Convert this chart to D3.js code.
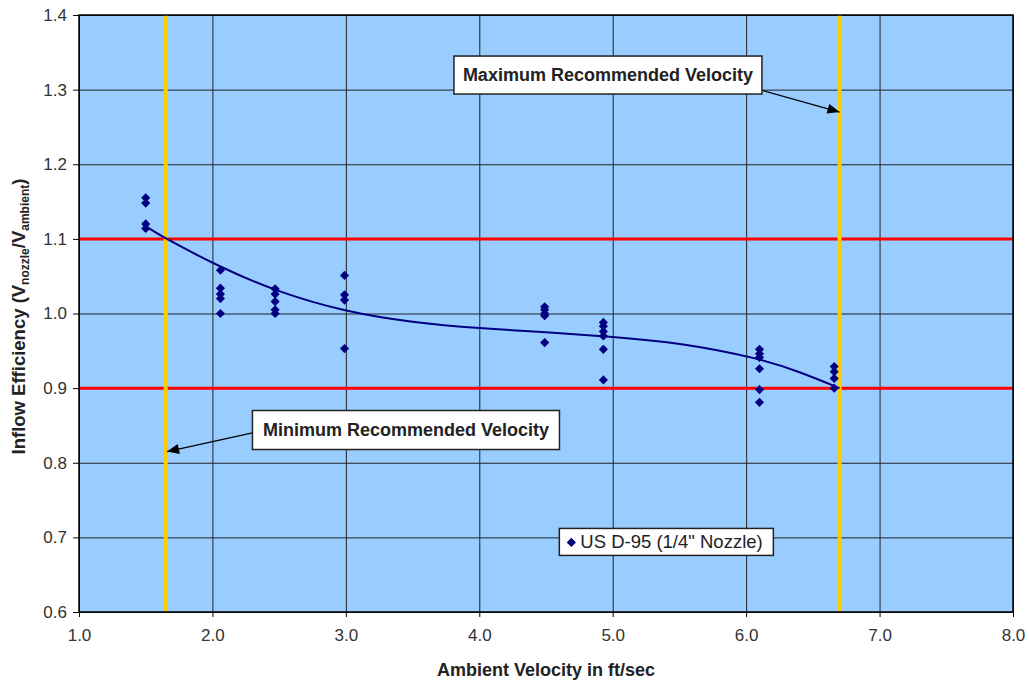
<!DOCTYPE html>
<html>
<head>
<meta charset="utf-8">
<script src="https://cdn.jsdelivr.net/npm/d3@7"></script>
<style>
  body { margin: 0; background: #fff; }
  svg { font-family: "Liberation Sans", Arial, sans-serif; }
  .axis text { font-size: 17px; fill: #333; }
  .axis path, .axis line { stroke: #000; }
  .grid line { stroke: #222; stroke-width: 1; }
  .grid path { display: none; }
</style>
</head>
<body>
<div class="chart"></div>
<script>
// Measured points: x = ambient velocity (ft/sec), y = inflow efficiency
const pointX = [
  1.5, 1.5, 1.5, 1.5,
  2.06, 2.06, 2.06, 2.06, 2.06,
  2.47, 2.47, 2.47, 2.47, 2.47,
  2.99, 2.99, 2.99, 2.99,
  4.49, 4.49, 4.49, 4.49, 4.49,
  4.93, 4.93, 4.93, 4.93, 4.93, 4.93,
  6.1, 6.1, 6.1, 6.1, 6.1, 6.1,
  6.66, 6.66, 6.66, 6.66
];
const pointY = [
  1.155, 1.148, 1.12, 1.114,
  1.058, 1.034, 1.026, 1.02, 1.0,
  1.033, 1.026, 1.016, 1.005, 1.0,
  1.051, 1.025, 1.018, 0.953,
  1.009, 1.005, 1.0, 0.997, 0.961,
  0.988, 0.983, 0.976, 0.97, 0.952, 0.911,
  0.952, 0.946, 0.941, 0.926, 0.898, 0.881,
  0.929, 0.922, 0.913, 0.9
];
// Trend line
const trendX = [1.5, 1.65, 2.06, 2.47, 3.0, 3.5, 4.0, 4.5, 5.0, 5.5, 6.1, 6.4, 6.7];
const trendY = [1.117, 1.1, 1.062, 1.03, 1.002, 0.988, 0.98, 0.975, 0.969, 0.961, 0.94, 0.922, 0.9];

const xTicks = [1, 2, 3, 4, 5, 6, 7, 8];
const yTicks = [0.6, 0.7, 0.8, 0.9, 1.0, 1.1, 1.2, 1.3, 1.4];
const limitVelocities = [1.65, 6.7];   // yellow lines
const limitEfficiencies = [0.9, 1.1];  // red lines
const legendLabel = "US D-95 (1/4\" Nozzle)";

const margin = { top: 15, right: 16, bottom: 73, left: 79 };
const width = 1029 - margin.left - margin.right;
const height = 685 - margin.top - margin.bottom;

const svg = d3.select(".chart").append("svg")
  .attr("width", 1029)
  .attr("height", 685);
const g = svg.append("g")
  .attr("transform", "translate(" + margin.left + "," + margin.top + ")");

const x = d3.scaleLinear().domain([1, 8]).range([0, width]);
const y = d3.scaleLinear().domain([0.6, 1.4]).range([height, 0]);

// plot background
g.append("rect")
  .attr("width", width)
  .attr("height", height)
  .attr("fill", "#99ccff");

// grid
g.append("g")
  .attr("class", "grid")
  .attr("transform", "translate(0," + height + ")")
  .call(d3.axisBottom(x).tickValues(xTicks).tickSize(-height).tickFormat(""));
g.append("g")
  .attr("class", "grid")
  .call(d3.axisLeft(y).tickValues(yTicks).tickSize(-width).tickFormat(""));

// limit lines
g.selectAll(".hlimit")
  .data(limitEfficiencies)
  .enter().append("line")
  .attr("x1", 0).attr("x2", width)
  .attr("y1", d => y(d)).attr("y2", d => y(d))
  .attr("stroke", "#ff0000")
  .attr("stroke-width", 3);
g.selectAll(".vlimit")
  .data(limitVelocities)
  .enter().append("line")
  .attr("x1", d => x(d)).attr("x2", d => x(d))
  .attr("y1", 0).attr("y2", height)
  .attr("stroke", "#ffcc00")
  .attr("stroke-width", 4);

// trend line
const trend = trendX.map((d, i) => [d, trendY[i]]);
g.append("path")
  .datum(trend)
  .attr("fill", "none")
  .attr("stroke", "#000080")
  .attr("stroke-width", 2)
  .attr("d", d3.line().x(d => x(d[0])).y(d => y(d[1])).curve(d3.curveBasis));

// points (square turned 45 degrees)
const diamond = d3.symbol().type(d3.symbolSquare).size(42);
g.selectAll(".pt")
  .data(pointX.map((d, i) => [d, pointY[i]]))
  .enter().append("path")
  .attr("d", diamond)
  .attr("transform", d => "translate(" + x(d[0]) + "," + y(d[1]) + ") rotate(45)")
  .attr("fill", "#000080");

// plot border
g.append("rect")
  .attr("width", width)
  .attr("height", height)
  .attr("fill", "none")
  .attr("stroke", "#000")
  .attr("stroke-width", 1.5);

// axes
g.append("g")
  .attr("class", "axis")
  .attr("transform", "translate(0," + height + ")")
  .call(d3.axisBottom(x).tickValues(xTicks).tickSize(5).tickPadding(12).tickFormat(d3.format(".1f")))
  .call(a => a.select(".domain").remove());
g.append("g")
  .attr("class", "axis")
  .call(d3.axisLeft(y).tickValues(yTicks).tickSize(6).tickPadding(6).tickFormat(d3.format(".1f")))
  .call(a => a.select(".domain").remove());

// axis titles
svg.append("text")
  .attr("x", margin.left + width / 2)
  .attr("y", 676)
  .attr("text-anchor", "middle")
  .attr("font-size", 18)
  .attr("font-weight", "bold")
  .attr("fill", "#222")
  .text("Ambient Velocity in ft/sec");

const yTitle = svg.append("text")
  .attr("transform", "translate(25," + (margin.top + y(1.0) + 3) + ") rotate(-90)")
  .attr("text-anchor", "middle")
  .attr("font-size", 18.5)
  .attr("font-weight", "bold")
  .attr("fill", "#222");
yTitle.append("tspan").text("Inflow Efficiency (V");
yTitle.append("tspan").attr("font-size", 12).attr("dy", 4).text("nozzle");
yTitle.append("tspan").attr("dy", -4).text("/V");
yTitle.append("tspan").attr("font-size", 12).attr("dy", 4).text("ambient");
yTitle.append("tspan").attr("dy", -4).text(")");

// arrow marker
svg.append("defs").append("marker")
  .attr("id", "arrow")
  .attr("viewBox", "0 0 12 10")
  .attr("refX", 12).attr("refY", 5)
  .attr("markerWidth", 13).attr("markerHeight", 10)
  .attr("markerUnits", "userSpaceOnUse")
  .attr("orient", "auto")
  .append("path")
  .attr("d", "M0,0 L12,5 L0,10 z")
  .attr("fill", "#000");

// annotations: box position in data units, arrow to limit line
const notes = [
  { text: "Maximum Recommended Velocity", bx: 3.81, by: 1.345, bw: 308, bh: 38, from: [6.0, 1.305], to: [6.7, 1.27] },
  { text: "Minimum Recommended Velocity", bx: 2.3, by: 0.87, bw: 307, bh: 39, from: [2.3, 0.84], to: [1.66, 0.815] }
];
notes.forEach(n => {
  const bx = x(n.bx), by = y(n.by);
  g.append("line")
    .attr("x1", x(n.from[0])).attr("y1", y(n.from[1]))
    .attr("x2", x(n.to[0])).attr("y2", y(n.to[1]))
    .attr("stroke", "#000").attr("stroke-width", 1.3)
    .attr("marker-end", "url(#arrow)");
  g.append("rect")
    .attr("x", bx).attr("y", by)
    .attr("width", n.bw).attr("height", n.bh)
    .attr("fill", "#fff").attr("stroke", "#222").attr("stroke-width", 1.5);
  g.append("text")
    .attr("x", bx + n.bw / 2).attr("y", by + n.bh / 2 + 6)
    .attr("text-anchor", "middle")
    .attr("font-size", 18).attr("font-weight", "bold")
    .attr("fill", "#222")
    .text(n.text);
});

// legend
const lg = g.append("g")
  .attr("transform", "translate(" + x(4.6) + "," + y(0.712) + ")");
lg.append("rect")
  .attr("width", 214).attr("height", 27)
  .attr("fill", "#fff").attr("stroke", "#222").attr("stroke-width", 1.5);
lg.append("path")
  .attr("d", diamond)
  .attr("transform", "translate(12,14) rotate(45)")
  .attr("fill", "#000080");
lg.append("text")
  .attr("x", 21).attr("y", 20)
  .attr("font-size", 18.5)
  .attr("fill", "#222")
  .text(legendLabel);
</script>
</body>
</html>
